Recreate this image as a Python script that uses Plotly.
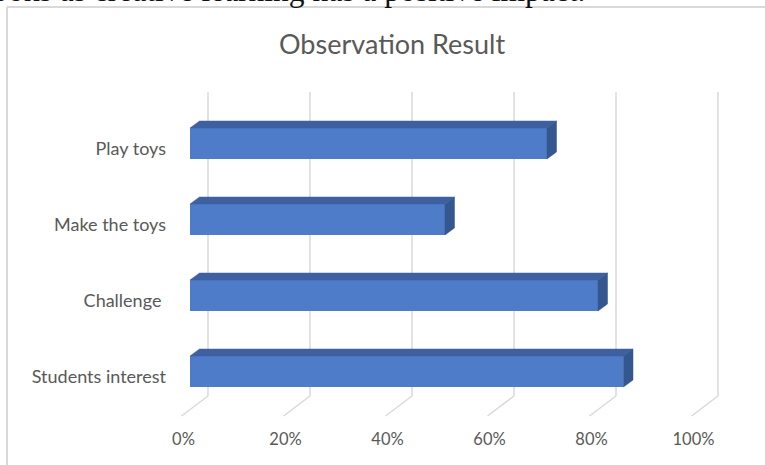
import plotly.graph_objects as go

# ---------------- data ----------------
categories = ["Students interest", "Challenge\u00a0", "Make the toys", "Play toys"]
values = [85, 80, 50, 70]
tick_values = [0, 20, 40, 60, 80, 100]
tick_labels = ["0%", "20%", "40%", "60%", "80%", "100%"]
title_text = "Observation Result"
caption_text = "puppet books as creative learning has a positive impact."

# ---------------- geometry (pixel mapping) ----------------
W, H = 765, 465
PX_PER_PCT = 5.1
X0_PX = 190.0
ROW_PX = 76.0
ROW0_PX = 371.5


def y_of(py):
    return (ROW0_PX - py) / ROW_PX


def dx_of(dpx):
    return dpx / PX_PER_PCT


BAR_H = 31 / ROW_PX
DEPTH_X = dx_of(9.5)
DEPTH_Y = 7 / ROW_PX
WALL_DX = dx_of(18)
FLOOR_DX = dx_of(-8.5)

FRONT = "#4E7CC8"
TOP = "#3E60A0"
SIDE = "#345790"
GRID = "#D9D9D9"
TXT = "#595959"
FONT = "Lato"

fig = go.Figure()

ypos = list(range(len(categories)))

# front faces
fig.add_trace(go.Bar(
    x=values, y=ypos, base=0, orientation="h", width=BAR_H,
    marker=dict(color=FRONT, line=dict(width=0)), hoverinfo="skip",
))

# top and side faces
tx, ty, sx, sy = [], [], [], []
for c, v in zip(ypos, values):
    top = c + BAR_H / 2
    bot = c - BAR_H / 2
    tx += [0, v, v + DEPTH_X, DEPTH_X, 0, None]
    ty += [top, top, top + DEPTH_Y, top + DEPTH_Y, top, None]
    sx += [v, v, v + DEPTH_X, v + DEPTH_X, v, None]
    sy += [bot, top, top + DEPTH_Y, bot + DEPTH_Y, bot, None]
fig.add_trace(go.Scatter(x=tx, y=ty, mode="lines", fill="toself", fillcolor=TOP,
                         line=dict(width=0.5, color=TOP), hoverinfo="skip"))
fig.add_trace(go.Scatter(x=sx, y=sy, mode="lines", fill="toself", fillcolor=SIDE,
                         line=dict(width=0.5, color=SIDE), hoverinfo="skip"))

# category labels
fig.add_trace(go.Scatter(
    x=[dx_of(166 - X0_PX)] * len(categories), y=[c - 7 / ROW_PX for c in ypos],
    mode="text", text=categories, textposition="middle left",
    textfont=dict(family=FONT, size=18, color=TXT), hoverinfo="skip", cliponaxis=False,
))

# value-axis tick labels
fig.add_trace(go.Scatter(
    x=[t + dx_of(183.5 - X0_PX) for t in tick_values], y=[y_of(441)] * len(tick_values),
    mode="text", text=tick_labels, textposition="middle center",
    textfont=dict(family=FONT, size=16.5, color=TXT), hoverinfo="skip", cliponaxis=False,
))

# back-wall gridlines with floor diagonals
shapes = []
for t in tick_values:
    shapes.append(dict(type="line", xref="x", yref="y", layer="below",
                       x0=t + WALL_DX, x1=t + WALL_DX, y0=y_of(92), y1=y_of(396),
                       line=dict(color=GRID, width=1.5)))
    shapes.append(dict(type="line", xref="x", yref="y", layer="below",
                       x0=t + WALL_DX, x1=t + FLOOR_DX, y0=y_of(396), y1=y_of(416),
                       line=dict(color=GRID, width=1.5)))

# chart frame (left and top edges visible)
shapes.append(dict(type="line", xref="paper", yref="paper", layer="below",
                   x0=7 / W, x1=7 / W, y0=0, y1=1 - 7 / H, line=dict(color=GRID, width=2)))
shapes.append(dict(type="line", xref="paper", yref="paper", layer="below",
                   x0=7 / W, x1=1, y0=1 - 7 / H, y1=1 - 7 / H, line=dict(color=GRID, width=2)))

annotations = [
    dict(text=title_text, xref="paper", yref="paper", x=392 / W, y=1 - 43.5 / H,
         xanchor="center", yanchor="middle", showarrow=False,
         font=dict(family=FONT, size=27, color=TXT)),
    dict(text=caption_text, xref="paper", yref="paper", x=587 / W, y=1 - (-9.5) / H,
         xanchor="right", yanchor="middle", showarrow=False,
         font=dict(family="Liberation Serif", size=31.5, color="#111111")),
]

fig.update_layout(
    width=W, height=H, margin=dict(l=0, r=0, t=0, b=0),
    paper_bgcolor="white", plot_bgcolor="white", showlegend=False,
    xaxis=dict(range=[dx_of(-X0_PX), dx_of(W - X0_PX)], visible=False, fixedrange=True),
    yaxis=dict(range=[y_of(H), y_of(0)], visible=False, fixedrange=True),
    shapes=shapes, annotations=annotations,
)

fig.write_html("out.html")
